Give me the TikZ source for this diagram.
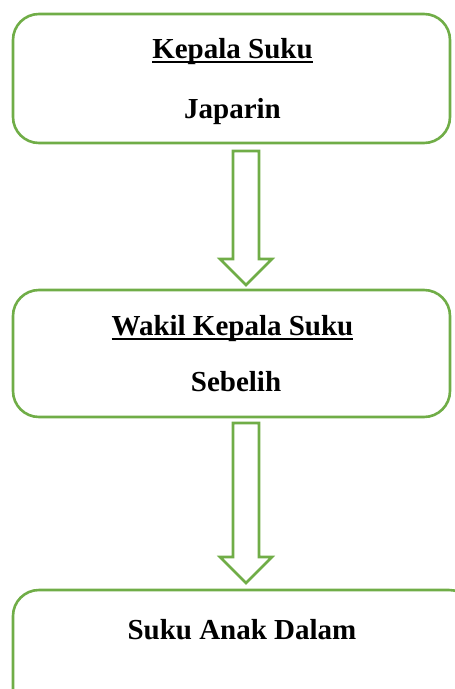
\documentclass[tikz,border=0pt]{standalone}
\usepackage{fontspec}
\setmainfont{Liberation Serif}
\usetikzlibrary{calc}
\definecolor{lgreen}{HTML}{70AD47}
\newcommand{\thickul}[1]{\setbox0\hbox{#1}\rlap{\copy0}\rlap{\raisebox{-4.5pt}{\rule{\wd0}{1.6pt}}}\phantom{\copy0}}
\tikzset{
  box/.style={draw=lgreen, line width=2.6pt, rounded corners=26pt, fill=white, inner sep=0pt},
  lbl/.style={font=\fontsize{29}{35}\selectfont\bfseries, anchor=base, inner sep=0pt},
  blockarrow/.style={draw=lgreen, line width=2.6pt, fill=white, line join=miter}
}
\begin{document}
\begin{tikzpicture}[x=1pt,y=-1pt]
\useasboundingbox (0,0) rectangle (455,689);
\clip (0,0) rectangle (455,689);
% boxes
\node[box, minimum width=437pt, minimum height=129pt] (b1) at (231.5,78.5) {};
\node[box, minimum width=437pt, minimum height=127pt] (b2) at (231.5,353.5) {};
\node[box, minimum width=462pt, minimum height=132pt] (b3) at (244,656) {};
% texts
\node[lbl] (t1) at (232.5,58) {\thickul{Kepala Suku}};
\node[lbl] (t2) at (232.5,118) {Japarin};
\node[lbl] (t3) at (232.5,335) {\thickul{Wakil Kepala Suku}};
\node[lbl] (t4) at (236,391) {Sebelih};
\node[lbl] (t5) at (242,639) {Suku Anak Dalam};
% block arrows
\coordinate (a1s) at (246,151);
\coordinate (a1t) at (246,285);
\coordinate (a2s) at (246,423);
\coordinate (a2t) at (246,583);
\draw[blockarrow] ($(a1s)+(-13,0)$) -- ($(a1s)+(13,0)$) -- ($(a1t)+(13,-26)$) -- ($(a1t)+(26,-26)$) -- (a1t) -- ($(a1t)+(-26,-26)$) -- ($(a1t)+(-13,-26)$) -- cycle;
\draw[blockarrow] ($(a2s)+(-13,0)$) -- ($(a2s)+(13,0)$) -- ($(a2t)+(13,-26)$) -- ($(a2t)+(26,-26)$) -- (a2t) -- ($(a2t)+(-26,-26)$) -- ($(a2t)+(-13,-26)$) -- cycle;
\end{tikzpicture}
\end{document}
